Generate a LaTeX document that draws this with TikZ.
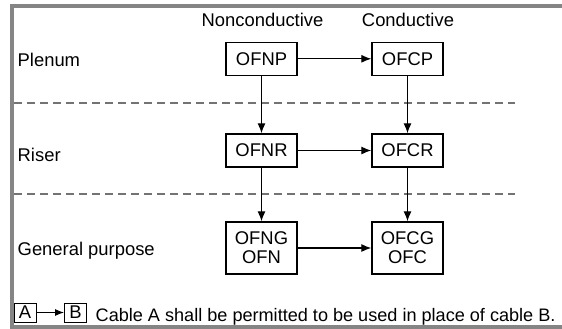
\documentclass[tikz,border=0pt]{standalone}
\usepackage{fontspec}
\setmainfont{Liberation Sans}
\usetikzlibrary{arrows.meta}
\begin{document}
\begin{tikzpicture}[x=1pt,y=-1pt,
  every node/.style={font=\fontsize{18.4}{19}\selectfont, inner sep=0pt},
  cable/.style={draw, line width=1.3pt, minimum width=71pt, minimum height=33pt, align=center},
  tallcable/.style={cable, minimum height=52pt},
  keybox/.style={draw, line width=1pt, minimum width=22pt, minimum height=19pt},
  sub/.style={-{Latex[length=10pt,width=8pt]}, line width=1.2pt},
  divider/.style={draw=black!55, line width=1.3pt, dash pattern=on 8pt off 5pt},
  frame/.style={draw=black!48, line width=4pt}]
\useasboundingbox (0,0) rectangle (562,329);

% outer frame (open on the right)
\draw[frame] (562,6) -- (12,6) -- (12,327) -- (562,327);

% column headings
\node[anchor=base] (hnon) at (262.5,26.7) {Nonconductive};
\node[anchor=base] (hcon) at (408,26.7) {Conductive};

% row labels
\node[anchor=base west] (lplen) at (17.5,66.7) {Plenum};
\node[anchor=base west] (lris) at (17.5,161) {Riser};
\node[anchor=base west] (lgen) at (17.5,255.7) {General purpose};

% row dividers
\coordinate (d1a) at (14,103);
\coordinate (d1b) at (515,103);
\coordinate (d2a) at (14,194);
\coordinate (d2b) at (515,194);
\draw[divider] (d1a) -- (d1b);
\draw[divider] (d2a) -- (d2b);

% cable types
\node[cable] (ofnp) at (261.5,58.8) {OFNP};
\node[cable] (ofcp) at (407.5,58.8) {OFCP};
\node[cable] (ofnr) at (261.5,150.5) {OFNR};
\node[cable] (ofcr) at (407.5,150.5) {OFCR};
\node[tallcable] (ofng) at (261.5,248) {OFNG\\OFN};
\node[tallcable] (ofcg) at (407.5,248) {OFCG\\OFC};

% permitted substitutions
\draw[sub] (ofnp) -- (ofcp);
\draw[sub] (ofnr) -- (ofcr);
\draw[sub] (ofng) -- (ofcg);
\draw[sub] (ofnp) -- (ofnr);
\draw[sub] (ofnr) -- (ofng);
\draw[sub] (ofcp) -- (ofcr);
\draw[sub] (ofcr) -- (ofcg);

% key
\node[keybox] (ka) at (25,312.5) {A};
\node[keybox] (kb) at (75.5,312.5) {B};
\draw[-{Latex[length=9pt,width=7pt]}, line width=1pt] (ka) -- (kb);
\node[anchor=base west, font=\fontsize{18.1}{19}\selectfont] (ktext) at (95.5,321.7) {Cable A shall be permitted to be used in place of cable B.};
\end{tikzpicture}
\end{document}
